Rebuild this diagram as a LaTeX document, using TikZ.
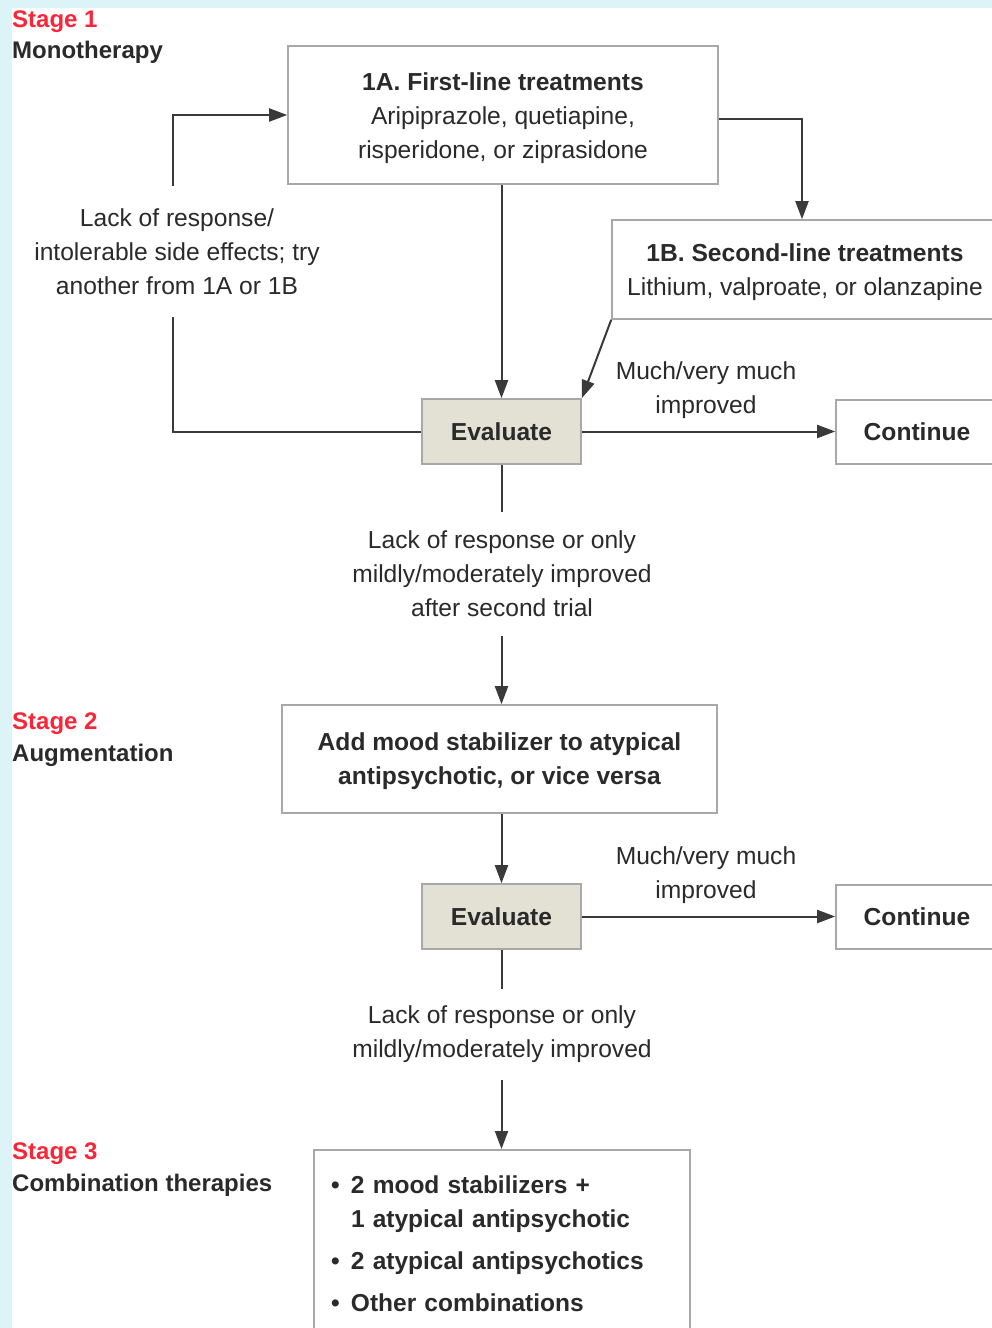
\documentclass[tikz,border=0pt]{standalone}
\usepackage{fontspec}
\setmainfont{Liberation Sans}
\usetikzlibrary{arrows.meta}
\definecolor{bgblue}{RGB}{220,243,248}
\definecolor{stagered}{RGB}{250,38,56}
\definecolor{txt}{RGB}{42,42,42}
\definecolor{evalfill}{RGB}{227,224,212}
\definecolor{boxgray}{RGB}{168,168,168}
\definecolor{linegray}{RGB}{58,58,58}
\newcommand{\firstpad}[1]{\rule{0pt}{#1}}
\tikzset{
  boxnode/.style={draw=boxgray, line width=1.6pt, fill=white, align=center, text=txt,
    inner sep=0pt, font=\fontsize{24.6}{34}\selectfont},
  evalnode/.style={boxnode, fill=evalfill, font=\fontsize{24.6}{34}\selectfont\bfseries,
    minimum width=159pt, minimum height=65pt},
  contnode/.style={boxnode, font=\fontsize{24.6}{34}\selectfont\bfseries,
    minimum width=162pt, minimum height=64pt, text width=162pt},
  lbl/.style={align=center, text=txt, font=\fontsize{24.6}{34}\selectfont},
  stagelbl/.style={anchor=west, inner sep=0pt, text=stagered, font=\fontsize{24}{28}\selectfont\bfseries},
  stagename/.style={anchor=west, inner sep=0pt, text=txt, font=\fontsize{24}{28}\selectfont\bfseries},
  conn/.style={draw=linegray, line width=2pt},
  arr/.style={conn, -{Triangle[length=18pt,width=13pt]}},
}
\begin{document}
\begin{tikzpicture}[x=1pt,y=-1pt]
\useasboundingbox (0,0) rectangle (992,1328);
\clip (0,0) rectangle (992,1328);
\fill[bgblue] (0,0) rectangle (992,1328);
\fill[white] (12,8) rectangle (992,1328);

% stage labels
\node[stagelbl] (s1) at (12,22) {Stage 1};
\node[stagename] (s1n) at (12,52) {Monotherapy};
\node[stagelbl] (s2) at (12,724) {Stage 2};
\node[stagename] (s2n) at (12,755) {Augmentation};
\node[stagelbl] (s3) at (12,1154) {Stage 3};
\node[stagename] (s3n) at (12,1185) {Combination therapies};

% boxes
\node[boxnode, minimum width=430pt, minimum height=138pt] (boxA) at (503,115)
  {\firstpad{24pt}\textbf{1A. First-line treatments}\\Aripiprazole, quetiapine,\\risperidone, or ziprasidone};
\node[boxnode, minimum width=386pt, minimum height=99pt] (boxB) at (805,269.5)
  {\firstpad{24pt}\textbf{1B. Second-line treatments}\\Lithium, valproate, or olanzapine};
\node[evalnode] (eval1) at (501.5,431.5) {Evaluate};
\node[contnode] (cont1) at (917,432) {Continue};
\node[boxnode, minimum width=435pt, minimum height=108pt, font=\fontsize{24.6}{34}\selectfont\bfseries] (box2) at (499.5,759)
  {\firstpad{23pt}Add mood stabilizer to atypical\\antipsychotic, or vice versa};
\node[evalnode] (eval2) at (501.5,916.5) {Evaluate};
\node[contnode] (cont2) at (917,917) {Continue};
\node[boxnode, anchor=north, text width=342pt, align=left, inner xsep=17pt, inner ysep=26pt,
  font=\fontsize{24.5}{34}\selectfont\bfseries] (box3) at (502,1149)
  {\makebox[20pt][l]{\textbullet}2 mood stabilizers +\\\hspace*{20pt}1 atypical antipsychotic\\[8pt]
   \makebox[20pt][l]{\textbullet}2 atypical antipsychotics\\[8pt]
   \makebox[20pt][l]{\textbullet}Other combinations};

% labels
\node[lbl, inner ysep=22pt] (loop) at (177,251.5)
  {Lack of response/\\intolerable side effects; try\\another from 1A or 1B};
\node[lbl] (much1) at (706,390) {Much/very much\\improved};
\node[lbl, inner ysep=19pt] (lack1) at (502,574)
  {Lack of response or only\\mildly/moderately improved\\after second trial};
\node[lbl] (much2) at (706,875) {Much/very much\\improved};
\node[lbl, inner ysep=17pt] (lack2) at (502,1034.5)
  {Lack of response or only\\mildly/moderately improved};

% connectors
\draw[arr] ([yshift=-4pt]boxA.east) -| ([xshift=-3pt]boxB.north);
\draw[arr] (boxA.south -| eval1.north) -- (eval1.north);
\draw[arr] (boxB.south west) -- (eval1.north east);
\draw[arr] (eval1.east) -- (eval1.east -| cont1.west);
\draw[conn] (eval1.west) -| ([xshift=-4pt]loop.south);
\draw[arr] ([xshift=-4pt]loop.north) |- (boxA.west);
\draw[conn] (eval1.south) -- (lack1.north -| eval1.south);
\draw[arr] (lack1.south -| eval1.south) -- (box2.north -| eval1.south);
\draw[arr] (box2.south -| eval2.north) -- (eval2.north);
\draw[arr] (eval2.east) -- (eval2.east -| cont2.west);
\draw[conn] (eval2.south) -- (lack2.north -| eval2.south);
\draw[arr] (lack2.south -| eval2.south) -- (box3.north -| eval2.south);
\end{tikzpicture}
\end{document}
